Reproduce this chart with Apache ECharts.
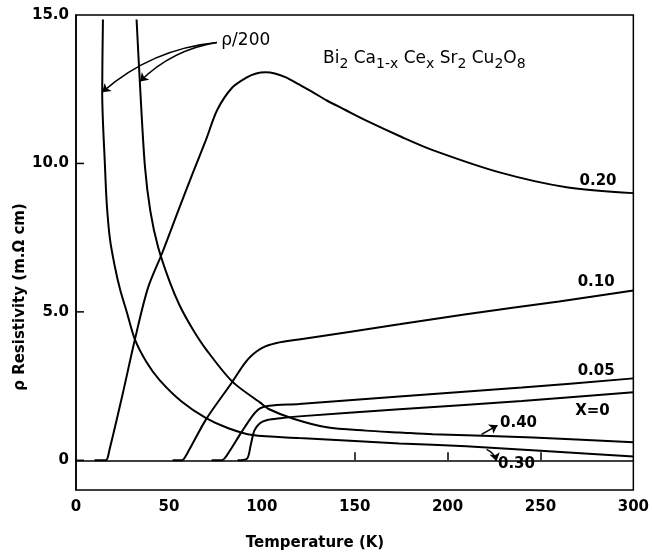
<!DOCTYPE html>
<html>
<head>
<meta charset="utf-8">
<script src="https://cdn.jsdelivr.net/npm/echarts@6/dist/echarts.min.js"></script>
<style>
  html, body { margin: 0; padding: 0; background: #fff; }
  #chart { width: 652px; height: 554px; }
</style>
</head>
<body>
<div id="chart"></div>
<script>
// values: [temperature K, resistivity mOhm cm]
const x000 = [[87, 0], [92, 0.05], [94, 0.5], [96, 1.0], [99, 1.25], [103, 1.36], [110, 1.42], [120, 1.48], [174, 1.72], [240, 2.0], [300, 2.29]]
const x005 = [[73, 0], [78.5, 0], [81, 0.15], [89, 0.94], [95, 1.5], [99, 1.75], [104, 1.84], [120, 1.9], [174, 2.15], [240, 2.45], [300, 2.76]]
const x010 = [[52, 0], [57, 0], [60, 0.25], [70, 1.38], [84, 2.63], [90, 3.2], [94, 3.5], [100, 3.78], [108, 3.95], [120, 4.07], [174, 4.58], [210, 4.92], [260, 5.35], [300, 5.72]]
const x020 = [[10, 0], [16, 0], [18, 0.35], [25, 2.2], [31.7, 4.07], [38.7, 5.8], [46.5, 7.0], [55, 8.4], [63, 9.7], [70, 10.8], [76, 11.8], [84, 12.55], [92, 12.9], [97, 13.03], [102, 13.07], [107, 13.03], [113, 12.9], [120, 12.66], [128, 12.38], [135, 12.12], [145, 11.8], [156, 11.45], [175, 10.9], [192, 10.45], [228, 9.7], [264, 9.2], [300, 9.0]]
// 0.30 and 0.40 are plotted as rho/200
const x030 = [[14.5, 14.85], [14.1, 12.4], [15.6, 9.9], [16.6, 8.6], [18.3, 7.44], [20.9, 6.53], [23.7, 5.76], [27.4, 4.98], [31.7, 4.07], [38, 3.3], [45, 2.7], [57, 1.97], [70, 1.42], [82, 1.08], [95, 0.85], [120, 0.75], [150, 0.65], [174, 0.57], [210, 0.47], [250, 0.32], [300, 0.13]]
const x040 = [[32.6, 14.85], [34.4, 12.7], [37.1, 9.9], [40, 8.4], [44.1, 7.2], [50.5, 6.0], [56, 5.19], [63, 4.4], [70, 3.74], [84, 2.66], [99, 1.95], [104, 1.72], [117, 1.4], [135, 1.11], [156, 1.0], [174, 0.94], [192, 0.88], [246, 0.77], [300, 0.61]]

const xTicks = [150, 200, 250]
const yLabels = [0, 5, 10, 15]
const yTicks = [0, 5, 10]

const font = '"DejaVu Sans", sans-serif'

const chart = echarts.init(document.getElementById('chart'))

function curve(name, data, extra) {
  return Object.assign({
    name: name,
    type: 'line',
    data: data,
    smooth: 0.3,
    showSymbol: false,
    lineStyle: { color: '#000', width: 2 },
    silent: true
  }, extra || {})
}

function tag(text, coord, size) {
  return {
    coord: coord,
    symbol: 'circle',
    symbolSize: 1,
    itemStyle: { color: 'rgba(0,0,0,0)' },
    label: {
      show: true, position: 'inside', formatter: text, color: '#000',
      fontSize: size || 15, fontFamily: font, fontWeight: size ? 'normal' : 'bold'
    }
  }
}

const axisNames = [
  {
    type: 'text', x: 20, y: 297, rotation: Math.PI / 2,
    style: { text: 'ρ Resistivity (m.Ω cm)', fill: '#000', font: 'bold 15px ' + font, align: 'center', verticalAlign: 'middle' }
  },
  {
    type: 'text', x: 315, y: 543,
    style: { text: 'Temperature (K)', fill: '#000', font: 'bold 15px ' + font, align: 'center', verticalAlign: 'middle' }
  }
]

chart.setOption({
  animation: false,
  backgroundColor: '#fff',
  grid: { left: 76, right: 18, top: 15, bottom: 64, show: true, borderColor: '#000', borderWidth: 1.5 },
  title: {
    left: 318,
    top: 42,
    text: 'Bi{s|2} Ca{s|1-x} Ce{s|x} Sr{s|2} Cu{s|2}O{s|8}',
    textStyle: {
      color: '#000', fontSize: 17, fontFamily: font, fontWeight: 'normal', lineHeight: 24,
      rich: { s: { fontSize: 14, fontFamily: font, color: '#000', verticalAlign: 'bottom', lineHeight: 12 } }
    }
  },
  xAxis: {
    type: 'value',
    min: 0,
    max: 300,
    interval: 50,
    axisLine: { lineStyle: { color: '#000', width: 1.5 } },
    axisTick: { inside: true, length: 8, customValues: xTicks, lineStyle: { color: '#000', width: 1.5 } },
    axisLabel: { color: '#000', fontSize: 15, fontWeight: 'bold', fontFamily: font, margin: 10 },
    splitLine: { show: false }
  },
  yAxis: {
    type: 'value',
    min: -1,
    max: 15,
    axisLine: { show: true, lineStyle: { color: '#000', width: 1.5 } },
    axisTick: { show: false },
    axisLabel: {
      color: '#000', fontSize: 15, fontWeight: 'bold', fontFamily: font, margin: 7,
      customValues: yLabels,
      formatter: v => (v === 0 ? '0' : v.toFixed(1))
    },
    splitLine: { show: false }
  },
  graphic: axisNames,
  series: [
    curve('x=0', x000, { markPoint: { silent: true, data: [tag('X=0', [278, 1.65])] } }),
    curve('0.05', x005, { markPoint: { silent: true, data: [tag('0.05', [280, 3.0])] } }),
    curve('0.10', x010, { markPoint: { silent: true, data: [tag('0.10', [280, 6.0])] } }),
    curve('0.20', x020, { markPoint: { silent: true, data: [tag('0.20', [281, 9.39])] } }),
    curve('0.30', x030, { markPoint: { silent: true, data: [tag('ρ/200', [91.4, 14.14], 17), tag('0.30', [237.1, -0.13])] } }),
    curve('0.40', x040, { markPoint: { silent: true, data: [tag('0.40', [238.2, 1.25])] } }),
    {
      name: 'arrows',
      type: 'lines',
      coordinateSystem: 'cartesian2d',
      silent: true,
      symbol: ['none', 'arrow'],
      symbolSize: 8,
      lineStyle: { color: '#000', width: 1.5, opacity: 1, curveness: -0.16 },
      data: [
        { coords: [[75.8, 14.07], [14.1, 12.4]] },
        { coords: [[75.8, 14.07], [34.4, 12.76]] },
        { coords: [[218.3, 0.875], [226.9, 1.18]], lineStyle: { curveness: 0 } },
        { coords: [[221, 0.37], [226.3, -0.03]], lineStyle: { curveness: 0.25 } }
      ]
    }
  ]
})

// inner y ticks, placed through the axis scale
const yTickLines = yTicks.map(v => {
  const p = chart.convertToPixel({ gridIndex: 0 }, [0, v])
  return {
    type: 'line',
    shape: { x1: p[0], y1: p[1], x2: p[0] + 8, y2: p[1] },
    style: { stroke: '#000', lineWidth: 1.5 },
    silent: true
  }
})
chart.setOption({ graphic: axisNames.concat(yTickLines) })
</script>
</body>
</html>
